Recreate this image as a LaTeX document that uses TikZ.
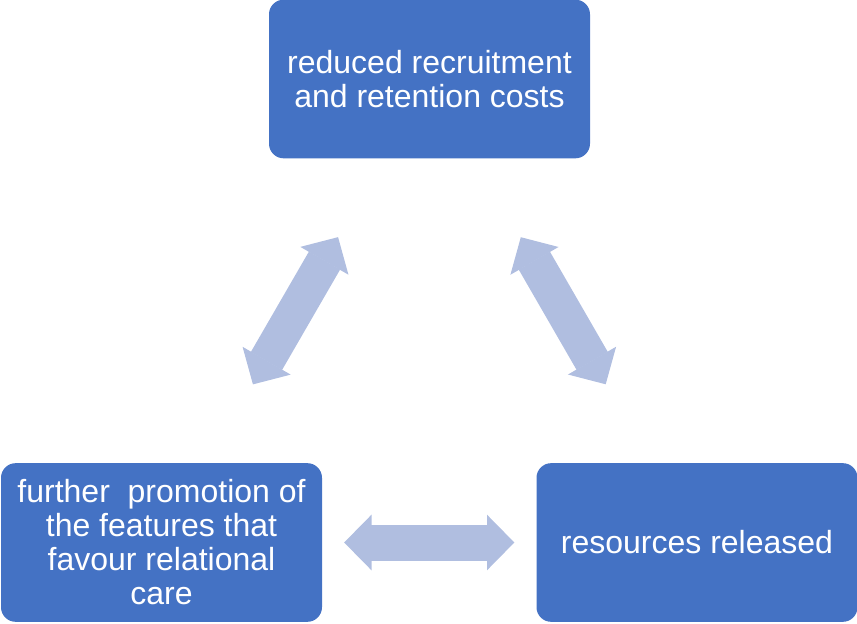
\documentclass[tikz,border=0pt]{standalone}
\usepackage{fontspec}
\setmainfont{Liberation Sans}
\usetikzlibrary{arrows.meta}
\definecolor{boxblue}{HTML}{4472C4}
\definecolor{linkblue}{HTML}{B0BEE0}
\tikzset{box/.style={fill=boxblue,rounded corners=11pt,minimum width=240.75pt,minimum height=119pt,inner sep=0pt,text=white,align=center,font=\fontsize{24}{25.5}\selectfont},
         link/.style={draw=linkblue,line width=27pt,{Triangle[length=20.5pt,width=41.5pt,line width=1pt]}-{Triangle[length=20.5pt,width=41.5pt,line width=1pt]},shorten <=137pt,shorten >=137pt}
}
\begin{document}
\begin{tikzpicture}[x=0.75pt,y=-0.75pt]
\useasboundingbox (0,0) rectangle (857,624);

\node[box] (costs) at (429.5,79) {reduced recruitment\\and retention costs};
\node[box] (care) at (161.5,542.5) {further\ \ promotion of\\the features that\\favour relational\\care};
\node[box] (released) at (697,542.5) {resources released};
\draw[link] (costs.center)--(care.center);
\draw[link] (costs.center)--(released.center);
\draw[link] (care.center)--(released.center);

\end{tikzpicture}
\end{document}
